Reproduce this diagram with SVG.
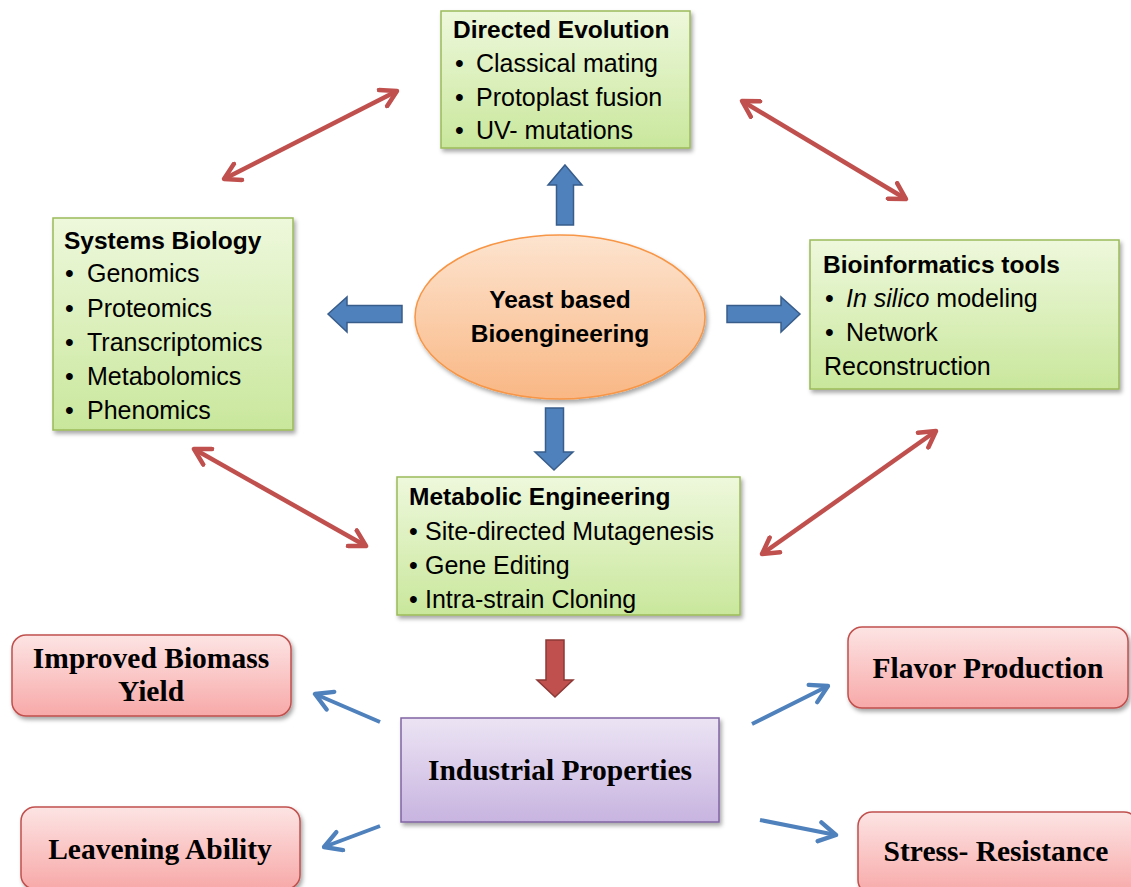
<svg xmlns="http://www.w3.org/2000/svg" width="1131" height="887" viewBox="0 0 1131 887">
<defs>
<linearGradient id="gGreen" x1="0" y1="0" x2="0" y2="1"><stop offset="0" stop-color="#eef8dc"/><stop offset="1" stop-color="#c9e79c"/></linearGradient>
<linearGradient id="gOrange" x1="0" y1="0" x2="0" y2="1"><stop offset="0" stop-color="#fde4cf"/><stop offset="1" stop-color="#f9b784"/></linearGradient>
<linearGradient id="gRed" x1="0" y1="0" x2="0" y2="1"><stop offset="0" stop-color="#fde4e4"/><stop offset="1" stop-color="#f7a9a8"/></linearGradient>
<linearGradient id="gPurple" x1="0" y1="0" x2="0" y2="1"><stop offset="0" stop-color="#ece4f4"/><stop offset="1" stop-color="#c8b4e0"/></linearGradient>
<filter id="sh" x="-10%" y="-10%" width="130%" height="130%"><feDropShadow dx="2" dy="3" stdDeviation="2" flood-color="#000" flood-opacity="0.35"/></filter>
<marker id="rh" viewBox="0 0 10 10" refX="8" refY="5" markerWidth="5" markerHeight="5" orient="auto-start-reverse" markerUnits="strokeWidth"><path d="M1,1 L8,5 L1,9" fill="none" stroke="#c0504d" stroke-width="2" stroke-linecap="round" stroke-linejoin="round"/></marker>
<marker id="bh" viewBox="0 0 10 10" refX="8" refY="5" markerWidth="6" markerHeight="6" orient="auto" markerUnits="strokeWidth"><path d="M1,1 L8,5 L1,9" fill="none" stroke="#4f81bd" stroke-width="1.8" stroke-linecap="round" stroke-linejoin="round"/></marker>
</defs>
<style>
.gbox{fill:url(#gGreen);stroke:#9bbb59;stroke-width:1.5;filter:url(#sh)}
.rbox{fill:url(#gRed);stroke:#c0504d;stroke-width:1.5;filter:url(#sh)}
.t{font-family:"Liberation Sans",Arial,sans-serif;font-size:25px;fill:#000}
.tb{font-family:"Liberation Sans",Arial,sans-serif;font-size:24.5px;font-weight:bold;fill:#000}
.s{font-family:"Liberation Serif","Times New Roman",serif;font-size:29.5px;font-weight:bold;fill:#000;text-anchor:middle}
.red{stroke:#c0504d;stroke-width:4.5;fill:none;marker-start:url(#rh);marker-end:url(#rh)}
.blue{stroke:#4f81bd;stroke-width:4;fill:none;marker-end:url(#bh)}
.bblk{fill:#4f81bd;stroke:#385d8a;stroke-width:1.5}
.rblk{fill:#c0504d;stroke:#8c3836;stroke-width:1.5}
</style>
<g id="connectors">
<line class="red" x1="224" y1="179" x2="397" y2="91"/>
<line class="red" x1="742" y1="101" x2="906" y2="199"/>
<line class="red" x1="194" y1="449" x2="366" y2="546"/>
<line class="red" x1="762" y1="554" x2="936" y2="431"/>
<path class="bblk" d="M565,165 L582,185 L573.5,185 L573.5,225 L556.5,225 L556.5,185 L548,185 Z"/>
<path class="bblk" d="M328,314 L347,297 L347,305.5 L402,305.5 L402,322.5 L347,322.5 L347,332 Z"/>
<path class="bblk" d="M800,314 L781,297 L781,305.5 L727,305.5 L727,322.5 L781,322.5 L781,332 Z"/>
<path class="bblk" d="M554,470 L573,452 L563.5,452 L563.5,408 L545.5,408 L545.5,452 L535,452 Z"/>
<path class="rblk" d="M555,697 L573,680 L564,680 L564,640 L546,640 L546,680 L537,680 Z"/>
<line class="blue" x1="380" y1="722" x2="315" y2="694"/>
<line class="blue" x1="380" y1="826" x2="324" y2="847"/>
<line class="blue" x1="752" y1="724" x2="828" y2="686"/>
<line class="blue" x1="760" y1="820" x2="836" y2="835"/>
</g>
<g id="directed-evolution">
<rect class="gbox" x="441" y="11" width="249" height="137"/>
<text class="tb" x="453" y="38">Directed Evolution</text>
<text class="t" x="455" y="72">•</text><text class="t" x="476" y="72">Classical mating</text>
<text class="t" x="455" y="106">•</text><text class="t" x="476" y="106">Protoplast fusion</text>
<text class="t" x="455" y="139">•</text><text class="t" x="476" y="139">UV- mutations</text>
</g>
<g id="systems-biology">
<rect class="gbox" x="53" y="218" width="240" height="212"/>
<text class="tb" x="64" y="249">Systems Biology</text>
<text class="t" x="65" y="282">•</text><text class="t" x="87" y="282">Genomics</text>
<text class="t" x="65" y="317">•</text><text class="t" x="87" y="317">Proteomics</text>
<text class="t" x="65" y="351">•</text><text class="t" x="87" y="351">Transcriptomics</text>
<text class="t" x="65" y="385">•</text><text class="t" x="87" y="385">Metabolomics</text>
<text class="t" x="65" y="419">•</text><text class="t" x="87" y="419">Phenomics</text>
</g>
<g id="bioinformatics">
<rect class="gbox" x="810" y="240" width="309" height="149"/>
<text class="tb" x="823" y="273">Bioinformatics tools</text>
<text class="t" x="825" y="307">•</text><text class="t" x="846" y="307"><tspan font-style="italic">In silico</tspan> modeling</text>
<text class="t" x="825" y="341">•</text><text class="t" x="846" y="341">Network</text>
<text class="t" x="824" y="375">Reconstruction</text>
</g>
<g id="yeast">
<ellipse cx="560" cy="317" rx="145" ry="82" fill="url(#gOrange)" stroke="#f79646" stroke-width="1.5" filter="url(#sh)"/>
<text class="tb" x="560" y="308" text-anchor="middle">Yeast based</text>
<text class="tb" x="560" y="342" text-anchor="middle">Bioengineering</text>
</g>
<g id="metabolic-engineering">
<rect class="gbox" x="397" y="477" width="343" height="138"/>
<text class="tb" x="409" y="505">Metabolic Engineering</text>
<text class="t" x="409" y="540">•</text><text class="t" x="425" y="540">Site-directed Mutagenesis</text>
<text class="t" x="409" y="574">•</text><text class="t" x="425" y="574">Gene Editing</text>
<text class="t" x="409" y="608">•</text><text class="t" x="425" y="608">Intra-strain Cloning</text>
</g>
<g id="industrial-properties">
<rect x="401" y="718" width="318" height="104" fill="url(#gPurple)" stroke="#8064a2" stroke-width="1.5" filter="url(#sh)"/>
<text class="s" x="560" y="780">Industrial Properties</text>
</g>
<g id="biomass">
<rect class="rbox" x="12" y="635" width="279" height="81" rx="14"/>
<text class="s" x="151" y="668">Improved Biomass</text>
<text class="s" x="151" y="701">Yield</text>
</g>
<g id="leavening">
<rect class="rbox" x="21" y="807" width="279" height="82" rx="14"/>
<text class="s" x="160" y="859">Leavening Ability</text>
</g>
<g id="flavor">
<rect class="rbox" x="848" y="627" width="280" height="81" rx="14"/>
<text class="s" x="988" y="678">Flavor Production</text>
</g>
<g id="stress">
<rect class="rbox" x="858" y="812" width="280" height="82" rx="14"/>
<text class="s" x="996" y="861">Stress- Resistance</text>
</g>
</svg>
